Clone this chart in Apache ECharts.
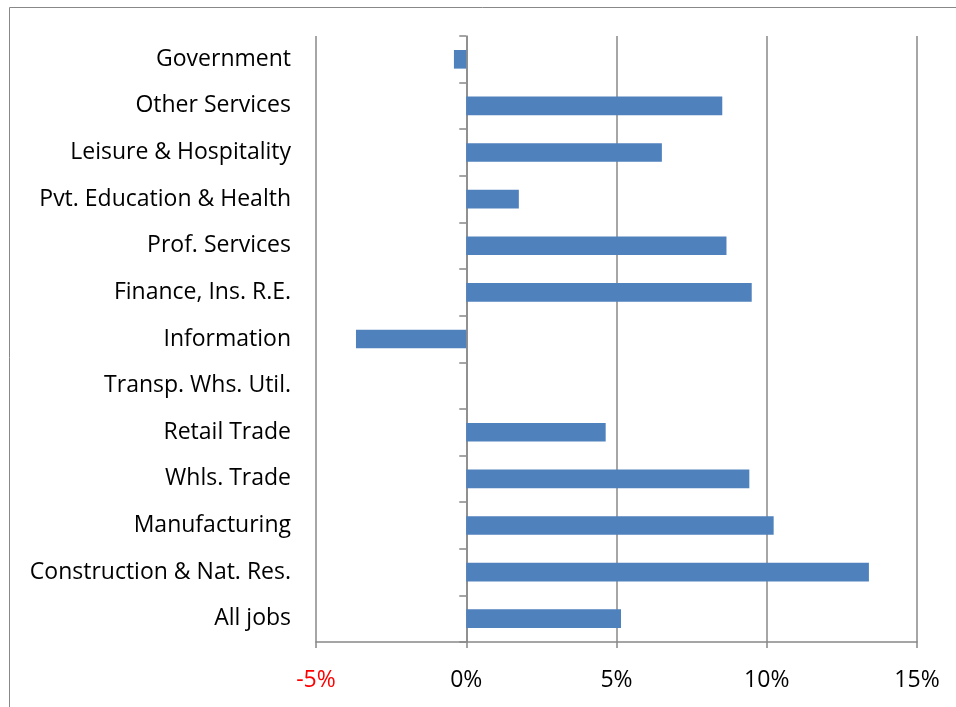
<!DOCTYPE html>
<html>
<head>
<meta charset="utf-8">
<script src="https://cdn.jsdelivr.net/npm/echarts@6/dist/echarts.min.js"></script>
<style>
html,body{margin:0;padding:0;background:#fff;}
#chart{width:956px;height:707px;}
</style>
</head>
<body>
<div id="chart"></div>
<script>
// Categories listed bottom to top (ECharts category y-axis starts at the bottom)
const categories = [
  "All jobs",
  "Construction & Nat. Res.",
  "Manufacturing",
  "Whls. Trade",
  "Retail Trade",
  "Transp. Whs. Util.",
  "Information",
  "Finance, Ins. R.E.",
  "Prof. Services",
  "Pvt. Education & Health",
  "Leisure & Hospitality",
  "Other Services",
  "Government"
];
// Percent change values
const values = [5.15, 13.4, 10.23, 9.42, 4.64, 0, -3.67, 9.5, 8.66, 1.75, 6.51, 8.52, -0.41];
const xMin = -5, xMax = 15, xStep = 5;

const FONT = "'Open Sans', 'Liberation Sans', sans-serif";
const GRID_COLOR = "#888888";

const chart = echarts.init(document.getElementById('chart'), null, {renderer: 'canvas'});
chart.setOption({
  animation: false,
  backgroundColor: '#ffffff',
  graphic: [{
    type: 'polyline',
    shape: {points: [[9.5, 707], [9.5, 7.5], [956, 7.5]]},
    style: {stroke: GRID_COLOR, lineWidth: 1, fill: null},
    silent: true
  }],
  grid: {left: 316, right: 39, top: 36, bottom: 65, containLabel: false},
  xAxis: {
    type: 'value',
    min: xMin, max: xMax, interval: xStep,
    axisLine: {show: true, onZero: false, lineStyle: {color: GRID_COLOR, width: 1.5}},
    axisTick: {show: true, length: 6, lineStyle: {color: GRID_COLOR, width: 1.5}},
    splitLine: {show: true, lineStyle: {color: GRID_COLOR, width: 1.5}},
    axisLabel: {
      margin: 27,
      fontFamily: FONT, fontSize: 23,
      formatter: v => v + '%',
      color: v => (v < 0 ? '#ff0000' : '#000000')
    }
  },
  yAxis: [{
    type: 'category',
    data: categories,
    position: 'left',
    axisLine: {show: false, onZero: false},
    axisTick: {show: false},
    splitLine: {show: false},
    axisLabel: {margin: 25, fontFamily: FONT, fontSize: 23, color: '#000000', padding: [2, 0, 0, 0]}
  }, {
    type: 'category',
    data: categories,
    position: 'left',
    axisLine: {show: true, onZero: true, lineStyle: {color: GRID_COLOR, width: 1.5}},
    axisTick: {show: true, length: 7, lineStyle: {color: GRID_COLOR, width: 1.5}},
    axisLabel: {show: false},
    splitLine: {show: false}
  }],
  series: [{
    type: 'bar',
    yAxisIndex: 0,
    data: values,
    barWidth: '40%',
    itemStyle: {color: '#4F81BD'}
  }]
});
</script>
</body>
</html>
